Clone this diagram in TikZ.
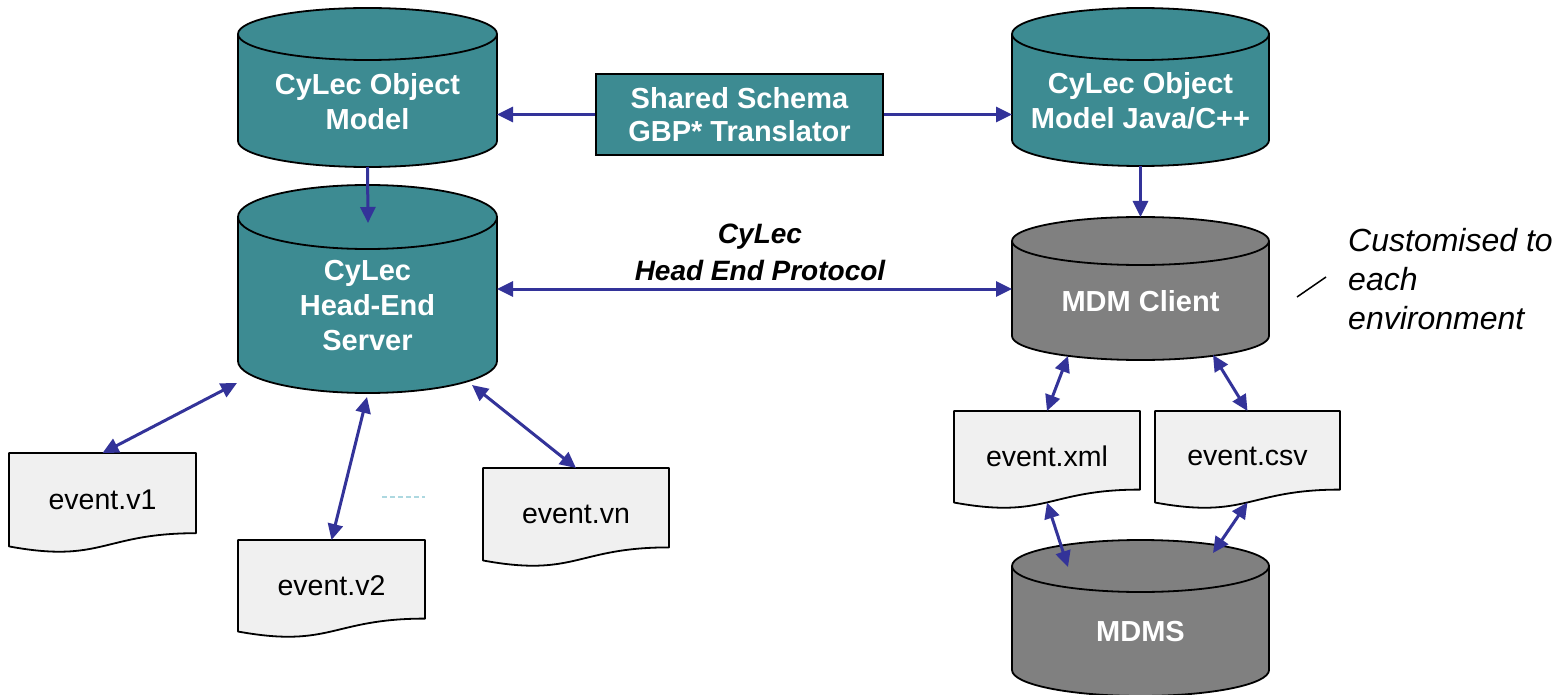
\documentclass[tikz,border=0pt]{standalone}
\usepackage{fontspec}
\setmainfont{Liberation Sans}
\usetikzlibrary{arrows.meta}
\definecolor{teal1}{HTML}{3D8B92}
\definecolor{grey1}{HTML}{808080}
\definecolor{docfill}{HTML}{F0F0F0}
\definecolor{arrowblue}{HTML}{333399}
\definecolor{dashcol}{HTML}{ADD8E0}
\tikzset{
  cylbody/.style={draw=black, line width=1.8pt, line join=round},
  docbody/.style={draw=black, line width=1.8pt, fill=docfill, line join=round},
  cyltext/.style={text=white, font=\fontsize{29}{35}\selectfont\bfseries, align=center, inner sep=0pt},
  doctext/.style={font=\fontsize{28.5}{34}\selectfont, align=center, inner sep=0pt, outer sep=0pt, anchor=north west},
  conn/.style={draw=arrowblue, line width=3pt, >={Triangle[length=16pt,width=15pt]}},
  boxstyle/.style={draw=black, line width=1.8pt, fill=teal1, text=white, font=\fontsize{29}{33}\selectfont\bfseries, align=center, inner sep=0pt},
  protolabel/.style={font=\fontsize{28}{37}\selectfont\bfseries\itshape, align=center, inner sep=0pt},
  notelabel/.style={font=\fontsize{32}{39}\selectfont\itshape, align=left, inner sep=0pt, anchor=west},
}
% cylinder: name, L, R, ty, by, ry, fill, text
\newcommand\mycyl[8]{%
  \path[cylbody, fill=#7] (#2,#4) -- (#2,#5)
     arc[start angle=180, end angle=360, x radius={(#3-#2)/2*1pt}, y radius={#6*1pt}]
     -- (#3,#4)
     arc[start angle=0, end angle=180, x radius={(#3-#2)/2*1pt}, y radius={#6*1pt}] -- cycle;
  \draw[cylbody] (#2,#4) arc[start angle=180, end angle=360, x radius={(#3-#2)/2*1pt}, y radius={#6*1pt}];
  \node[inner sep=0pt, outer sep=0pt, minimum width={(#3-#2)*1pt}, minimum height={(#5-#4+2*#6)*1pt}, anchor=north west] (#1) at (#2,#4-#6) {};
  \node[cyltext] (#1-t) at ({(#2+#3)/2},{(#4+#6+#5)/2+1}) {#8};
}
% document: name, L, T, W, H, text
\newcommand\mydoc[6]{%
  \draw[docbody] (#2,#3) -- (#2+#4,#3) -- (#2+#4,#3+0.802*#5)
     .. controls (#2+0.5*#4,#3+0.802*#5) and (#2+0.5*#4,#3+1.107*#5) .. (#2,#3+0.934*#5) -- cycle;
  \node[doctext, minimum width={#4*1pt}, minimum height={0.933*#5*1pt}] (#1) at (#2,#3) {#6};
}
\begin{document}
\begin{tikzpicture}[x=1pt, y=-1pt]
\useasboundingbox (0,0) rectangle (1560,695);

\mycyl{com}{238}{497}{34}{141}{26}{teal1}{CyLec Object\\Model}
\mycyl{hes}{238}{497}{217}{361}{32}{teal1}{CyLec\\Head-End\\Server}
\mycyl{cj}{1012}{1269}{34}{140}{26}{teal1}{CyLec Object\\Model Java/C++}
\mycyl{mdm}{1012}{1269}{241}{336}{24}{grey1}{MDM Client}
\mycyl{mdms}{1012}{1269}{566}{670}{26}{grey1}{MDMS}

\node[boxstyle, minimum width=287pt, minimum height=81pt] (shared) at (739.5,114.5) {Shared Schema\\GBP* Translator};

\mydoc{ev1}{9}{453}{187}{100}{event.v1}
\mydoc{ev2}{238}{540}{187}{98}{event.v2}
\mydoc{evn}{483}{468}{186}{99}{event.vn}
\mydoc{evxml}{954}{411}{186}{98}{event.xml}
\mydoc{evcsv}{1155}{411}{185}{98}{event.csv}

\node[protolabel] (plab) at (760,252) {CyLec\\Head End Protocol};
\node[notelabel] (note) at (1348,279) {Customised to\\each\\environment};

\coordinate (hes-top) at (368,223);
\coordinate (hes-a) at (237,383);
\coordinate (hes-b) at (367,397);
\coordinate (hes-c) at (472,385);
\coordinate (mdm-a) at (1068,356);
\coordinate (mdm-b) at (1213,355);
\coordinate (mdms-a) at (1068,567);
\coordinate (mdms-b) at (1213,553);
\coordinate (sl1) at (1297,297);
\coordinate (sl2) at (1326,277);
\coordinate (dl1) at (382,497);
\coordinate (dl2) at (425,497);

\draw[conn, ->] (shared.west) -- (shared.west -| com.east);
\draw[conn, ->] (shared.east) -- (shared.east -| cj.west);
\draw[conn, ->] (com.south) -- (hes-top);
\draw[conn, ->] (cj.south) -- (mdm.north);
\draw[conn, <->] (hes.east) -- (hes.east -| mdm.west);
\draw[conn, <->] (hes-a) -- (ev1.north);
\draw[conn, <->] (hes-b) -- (ev2.north);
\draw[conn, <->] (hes-c) -- (evn.north);
\draw[conn, <->] (mdm-a) -- (evxml.north);
\draw[conn, <->] (mdm-b) -- (evcsv.north);
\draw[conn, <->] (evxml.south) -- (mdms-a);
\draw[conn, <->] (evcsv.south) -- (mdms-b);

\draw[line width=1.5pt] (sl1) -- (sl2);
\draw[dashcol, line width=2pt, dash pattern=on 5pt off 3pt] (dl1) -- (dl2);
\end{tikzpicture}
\end{document}
